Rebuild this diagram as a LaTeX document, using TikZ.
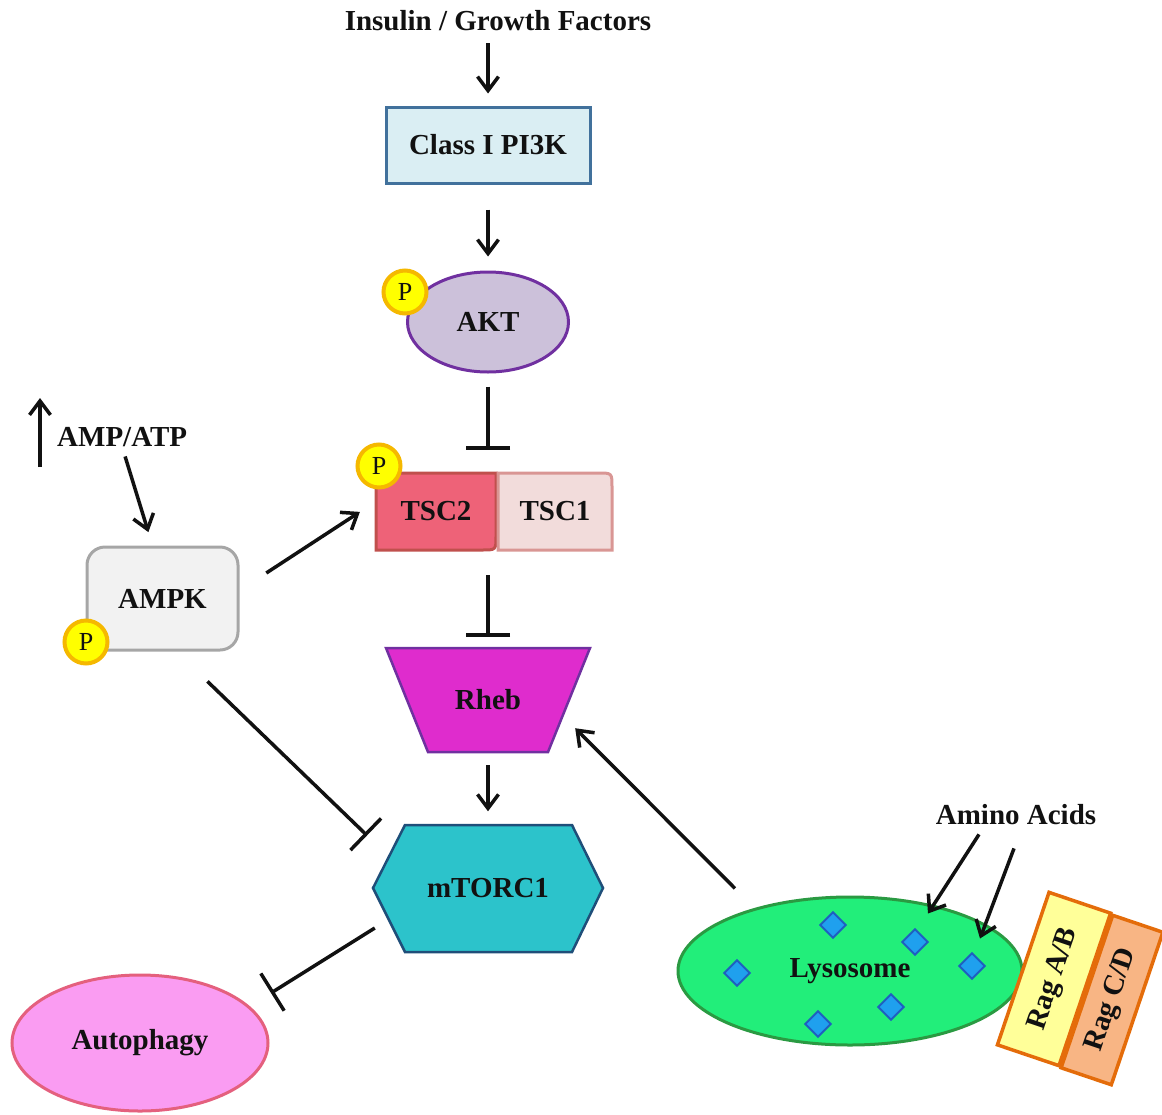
\documentclass[tikz,border=0pt]{standalone}
\usepackage{fontspec}
\setmainfont{Liberation Serif}
\usetikzlibrary{arrows.meta,shapes.geometric,calc}
\definecolor{pifill}{HTML}{DAEEF3}
\definecolor{pidraw}{HTML}{41719C}
\definecolor{aktfill}{HTML}{CCC1DA}
\definecolor{aktdraw}{HTML}{7030A0}
\definecolor{pfill}{HTML}{FFFF00}
\definecolor{pdraw}{HTML}{F5B800}
\definecolor{tsctwofill}{HTML}{EE6278}
\definecolor{tsctwodraw}{HTML}{C0504D}
\definecolor{tsconefill}{HTML}{F2DCDB}
\definecolor{tsconedraw}{HTML}{D99694}
\definecolor{ampkfill}{HTML}{F2F2F2}
\definecolor{ampkdraw}{HTML}{A6A6A6}
\definecolor{rhebfill}{HTML}{DF2CCD}
\definecolor{rhebdraw}{HTML}{7030A0}
\definecolor{mtorfill}{HTML}{2CC3CB}
\definecolor{mtordraw}{HTML}{1F4E79}
\definecolor{autofill}{HTML}{FA9CF2}
\definecolor{autodraw}{HTML}{E4607E}
\definecolor{lysofill}{HTML}{22EE7A}
\definecolor{lysodraw}{HTML}{2A9A42}
\definecolor{diafill}{HTML}{1FA0EE}
\definecolor{diadraw}{HTML}{1F5FC0}
\definecolor{ragabfill}{HTML}{FFFF99}
\definecolor{ragcdfill}{HTML}{F8B584}
\definecolor{ragdraw}{HTML}{E46C0A}
\definecolor{ink}{HTML}{111111}
\begin{document}
\begin{tikzpicture}[x=1pt,y=-1pt,
  lbl/.style={font=\fontsize{29}{32}\selectfont\bfseries, text=ink, inner sep=0pt},
  shapebox/.style={lbl, line width=3pt},
  act/.style={line width=3.5pt, draw=ink, -{Straight Barb[length=14pt,width=21pt]}},
  inh/.style={line width=3.5pt, draw=ink, -{Bar[width=44pt]}},
  phos/.style={circle, draw=pdraw, fill=pfill, line width=4pt, minimum size=43pt, inner sep=0pt, font=\fontsize{26}{28}\selectfont, text=ink},
  dia/.style={rectangle, rotate=45, minimum size=18pt, inner sep=0pt, fill=diafill, draw=diadraw, line width=2pt},
  rag/.style={lbl, rectangle, draw=ragdraw, line width=3.5pt, rotate=71.3, minimum width=161pt}
]
\useasboundingbox (0,0) rectangle (1162,1114);

% top
\node[lbl] (insulin) at (498,21) {Insulin / Growth Factors};
\node[shapebox, rectangle, draw=pidraw, fill=pifill, minimum width=204pt, minimum height=76pt] (pi3k) at (488,145) {Class I PI3K};
\node[shapebox, ellipse, draw=aktdraw, fill=aktfill, minimum width=161pt, minimum height=100pt] (akt) at (488,322) {AKT};

% TSC complex
\draw[line width=3pt, draw=tsctwodraw, fill=tsctwofill] (376,473) -- (496,473) -- (496,536) .. controls (496,550) .. (482,550) -- (376,550) -- cycle;
\draw[line width=3pt, draw=tsconedraw, fill=tsconefill] (498,473) -- (598,473) .. controls (612,473) .. (612,487) -- (612,550) -- (498,550) -- cycle;
\node[lbl, minimum width=120pt, minimum height=77pt] (tsc2) at (436,511.5) {TSC2};
\node[lbl, minimum width=114pt, minimum height=77pt] (tsc1) at (555,511.5) {TSC1};

% AMPK
\node[lbl, anchor=west] (ampatp) at (57,437) {AMP/ATP};
\node[shapebox, rectangle, rounded corners=18pt, draw=ampkdraw, fill=ampkfill, minimum width=151pt, minimum height=103pt] (ampk) at (162.5,598.5) {AMPK};

% Rheb
\draw[line width=2.5pt, draw=rhebdraw, fill=rhebfill] (386,648) -- (590,648) -- (548,752) -- (428,752) -- cycle;
\node[lbl, minimum width=204pt, minimum height=104pt] (rheb) at (488,700) {Rheb};

% mTORC1
\draw[line width=2.5pt, draw=mtordraw, fill=mtorfill] (373,888) -- (405,825) -- (572,825) -- (603,888) -- (572,952) -- (405,952) -- cycle;
\node[lbl, minimum width=230pt, minimum height=127pt] (mtorc) at (488,888) {mTORC1};

% Autophagy
\node[shapebox, ellipse, draw=autodraw, fill=autofill, minimum width=256pt, minimum height=136pt] (autophagy) at (140,1043) {Autophagy};

% Lysosome
\node[shapebox, ellipse, draw=lysodraw, fill=lysofill, minimum width=344pt, minimum height=148pt] (lyso) at (850,971) {Lysosome};
\node[dia] (d1) at (833,925) {};
\node[dia] (d2) at (915,942) {};
\node[dia] (d3) at (972,966) {};
\node[dia] (d4) at (737,973) {};
\node[dia] (d5) at (891,1007) {};
\node[dia] (d6) at (818,1024) {};
\node[lbl] (amino) at (1016,815) {Amino Acids};

% Rag
\node[rag, fill=ragabfill, minimum height=65pt] (ragab) at (1054,979) {Rag A/B};
\node[rag, fill=ragcdfill, minimum height=53pt] (ragcd) at (1112,1000) {Rag C/D};

% phosphates
\node[phos] (pakt) at (405,292) {P};
\node[phos] (ptsc) at (379,466) {P};
\node[phos] (pampk) at (86,642) {P};

% connectors
\draw[act, shorten <=12pt, shorten >=12pt] (insulin.south -| pi3k.north) -- (pi3k.north);
\draw[act, shorten <=25pt, shorten >=14pt] (pi3k.south) -- (akt.north);
\draw[inh, shorten <=13pt, shorten >=23pt] (akt.south) -- (akt.south |- tsc2.north);
\draw[inh, shorten <=25pt, shorten >=11pt] (akt.south |- tsc2.south) -- (rheb.north);
\draw[act, shorten <=13pt, shorten >=13pt] (rheb.south) -- (mtorc.north);
\draw[act] ([xshift=-17pt,yshift=-30pt]ampatp.west) -- ([xshift=-17pt,yshift=39pt]ampatp.west);
\draw[act, shorten <=10pt, shorten >=14pt] (ampatp.south) -- ([xshift=-10pt]ampk.north);
\draw[act, shorten <=32pt, shorten >=19pt] ([yshift=8pt]ampk.east) -- ([yshift=10pt]tsc2.west);
\draw[inh, shorten <=43pt, shorten >=8pt] ([xshift=-63pt]ampk.south east) -- ([yshift=47pt]mtorc.west);
\draw[inh] ([xshift=2pt,yshift=-40pt]mtorc.west) -- ([xshift=131pt,yshift=50pt]autophagy.center);
\draw[act, shorten <=10pt] ([xshift=-108pt]lyso.north) -- ([xshift=-15pt,yshift=24pt]rheb.south east);
\draw[act] ([xshift=-37pt,yshift=-9pt]amino.south) -- ([xshift=78pt,yshift=-18pt]lyso.north);
\draw[act] ([xshift=-2pt,yshift=-23pt]amino.south) -- ([xshift=130pt,yshift=-43pt]lyso.north);
\end{tikzpicture}
\end{document}
